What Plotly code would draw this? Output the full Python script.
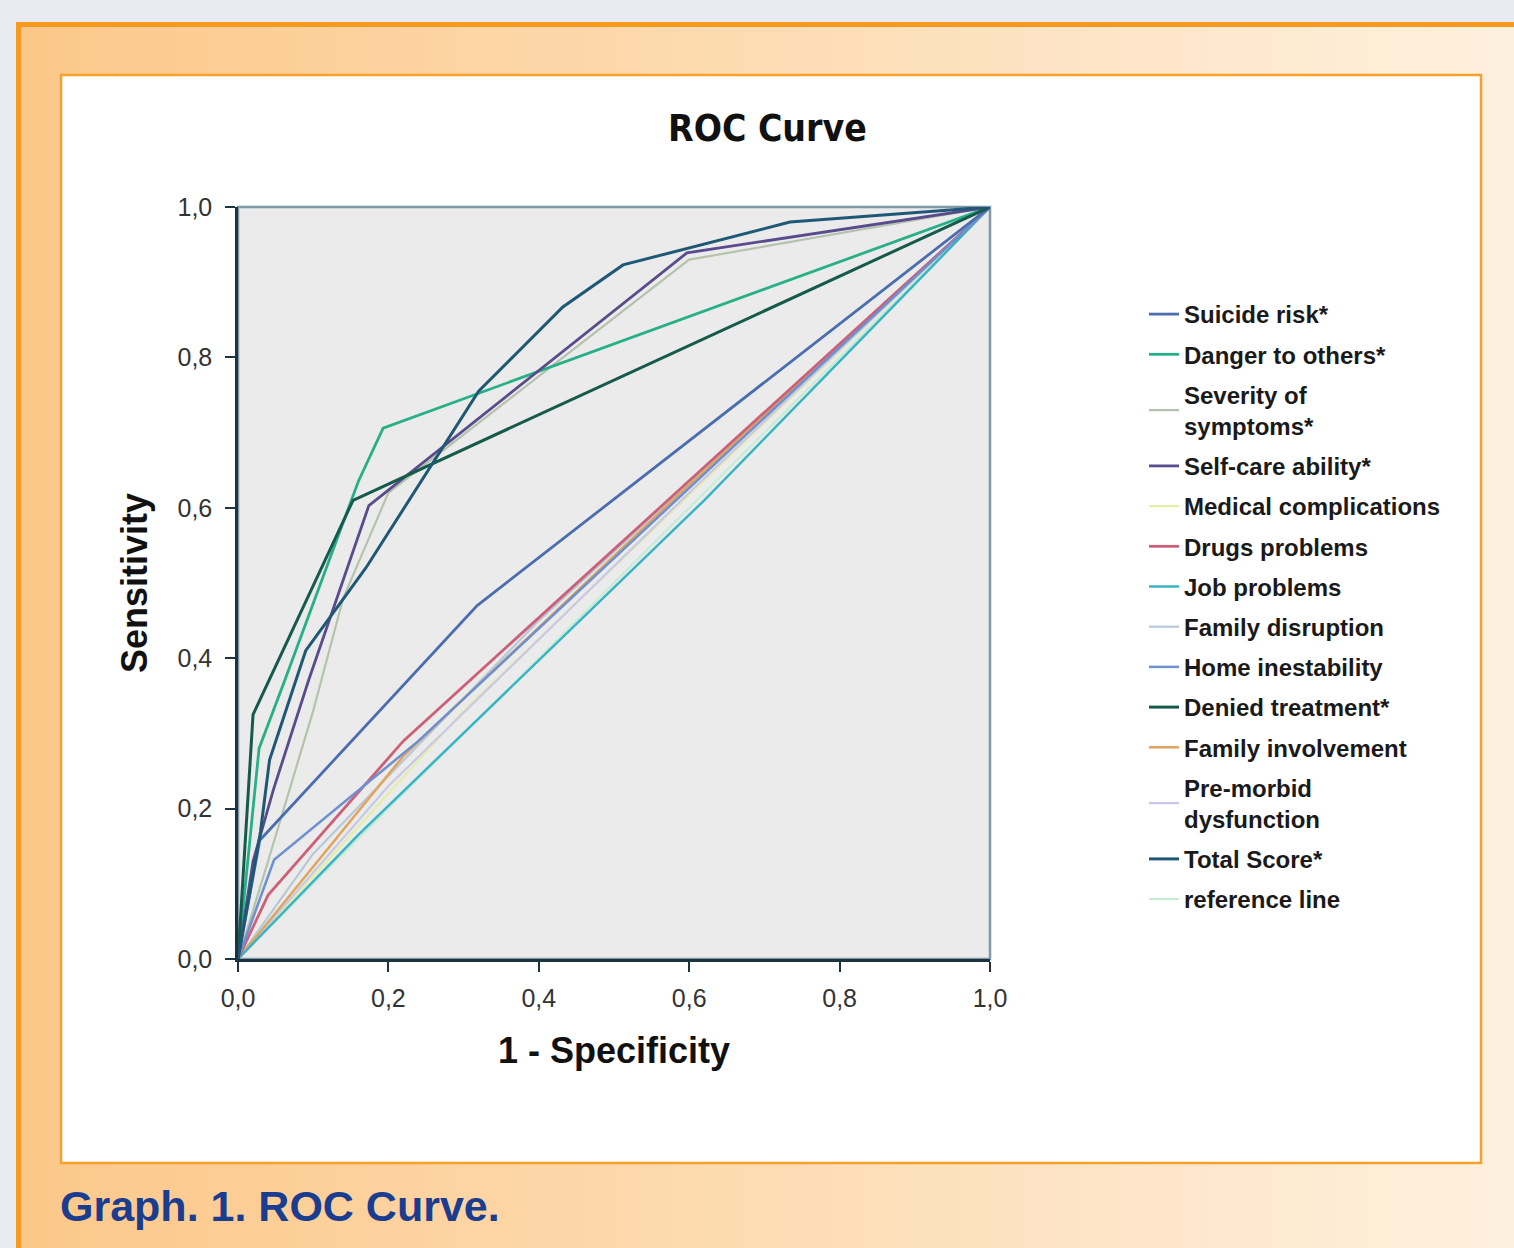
import plotly.graph_objects as go

# ---------------- data ----------------
tick_values = [0.0, 0.2, 0.4, 0.6, 0.8, 1.0]
tick_labels = ["0,0", "0,2", "0,4", "0,6", "0,8", "1,0"]

series_names = [
    "Suicide risk*", "Danger to others*", "Severity of<br>symptoms*",
    "Self-care ability*", "Medical complications", "Drugs problems",
    "Job problems", "Family disruption", "Home inestability",
    "Denied treatment*", "Family involvement", "Pre-morbid<br>dysfunction",
    "Total Score*", "reference line",
]

suicide_x = [0, 0.029, 0.318, 1]
suicide_y = [0, 0.158, 0.470, 1]
danger_x = [0, 0.028, 0.062, 0.160, 0.193, 1]
danger_y = [0, 0.280, 0.370, 0.635, 0.706, 1]
severity_x = [0, 0.040, 0.100, 0.140, 0.200, 0.600, 1]
severity_y = [0, 0.130, 0.330, 0.480, 0.620, 0.930, 1]
selfcare_x = [0, 0.020, 0.047, 0.094, 0.174, 0.597, 1]
selfcare_y = [0, 0.130, 0.225, 0.371, 0.603, 0.939, 1]
medical_x = [0, 0.300, 1]
medical_y = [0, 0.330, 1]
drugs_x = [0, 0.040, 0.220, 1]
drugs_y = [0, 0.085, 0.290, 1]
job_x = [0, 0.160, 0.620, 1]
job_y = [0, 0.165, 0.610, 1]
famdis_x = [0, 0.100, 0.400, 1]
famdis_y = [0, 0.140, 0.450, 1]
home_x = [0, 0.048, 0.240, 1]
home_y = [0, 0.132, 0.290, 1]
denied_x = [0, 0.020, 0.153, 1]
denied_y = [0, 0.325, 0.610, 1]
faminv_x = [0, 0.220, 0.578, 1]
faminv_y = [0, 0.270, 0.610, 1]
premorbid_x = [0, 0.200, 0.600, 1]
premorbid_y = [0, 0.230, 0.620, 1]
total_x = [0, 0.030, 0.042, 0.090, 0.170, 0.320, 0.432, 0.512, 0.734, 1]
total_y = [0, 0.170, 0.265, 0.410, 0.520, 0.755, 0.867, 0.923, 0.980, 1]
reference_x = [0, 1]
reference_y = [0, 1]

series_x = [suicide_x, danger_x, severity_x, selfcare_x, medical_x, drugs_x, job_x,
            famdis_x, home_x, denied_x, faminv_x, premorbid_x, total_x, reference_x]
series_y = [suicide_y, danger_y, severity_y, selfcare_y, medical_y, drugs_y, job_y,
            famdis_y, home_y, denied_y, faminv_y, premorbid_y, total_y, reference_y]

series_colors = [
    "#4a6db0", "#27b088", "#b4c4ac", "#5a4c8c", "#e4eea4", "#cc6078",
    "#38b4c4", "#b8c8d8", "#6c90d0", "#155a4c", "#e0a45c", "#c8c8e6",
    "#1f5876", "#c6ecd6",
]
series_widths = [2.8, 2.8, 2.2, 2.8, 2.2, 2.8, 2.5, 2.2, 2.5, 3, 2.5, 2.2, 3, 2.2]

# ---------------- geometry helpers ----------------
W, H = 1514, 1248
PL, PR, PT, PB = 238, 990, 207, 959
SPAN = PR - PL


def px(x):
    return (x - PL) / SPAN


def py(y):
    return (PB - y) / (PB - PT)


fig = go.Figure()

# draw light series first, dark on top, but keep legend order
draw_order = [13, 4, 11, 7, 2, 10, 6, 5, 8, 0, 1, 3, 9, 12]
for i in draw_order:
    fig.add_trace(go.Scatter(
        x=series_x[i], y=series_y[i], mode="lines", name=series_names[i],
        line=dict(color=series_colors[i], width=series_widths[i]),
        legendgroup=str(i), legendrank=i + 1, hoverinfo="skip",
    ))

shapes = []
# orange outer frame with horizontal gradient (strips)
n = 48
x0, x1 = 18, W + 10
c0 = (252, 200, 138)
c1 = (254, 240, 222)
for k in range(n):
    t = k / (n - 1)
    col = "rgb(%d,%d,%d)" % tuple(round(a + (b - a) * t) for a, b in zip(c0, c1))
    sx0 = x0 + (x1 - x0) * k / n
    sx1 = x0 + (x1 - x0) * (k + 1) / n + 1
    shapes.append(dict(type="rect", xref="paper", yref="paper", layer="below",
                       x0=px(sx0), x1=px(sx1), y0=py(24), y1=py(H + 10),
                       fillcolor=col, line=dict(width=0)))
shapes.append(dict(type="rect", xref="paper", yref="paper", layer="below",
                   x0=px(18.5), x1=px(W + 10), y0=py(24.5), y1=py(H + 10),
                   fillcolor="rgba(0,0,0,0)", line=dict(color="#f59a1e", width=5)))
# inner white panel
shapes.append(dict(type="rect", xref="paper", yref="paper", layer="below",
                   x0=px(61), x1=px(1481), y0=py(75), y1=py(1163),
                   fillcolor="#ffffff", line=dict(color="#f7a02a", width=2.5)))
# plot-area background with light frame (top / right)
shapes.append(dict(type="rect", xref="x domain", yref="y domain", layer="below",
                   x0=0, x1=1, y0=0, y1=1, fillcolor="#ebebeb",
                   line=dict(color="#7d98a6", width=2.5)))

annotations = [
    dict(text="<b>ROC Curve</b>", xref="paper", yref="paper", x=px(767), y=py(129),
         xanchor="center", yanchor="middle", showarrow=False,
         font=dict(family="Liberation Sans Narrow, DejaVu Sans Condensed, sans-serif",
                   size=37, color="#111111")),
    dict(text="<b>Graph. 1. ROC Curve.</b>", xref="paper", yref="paper", x=px(58), y=py(1206),
         xanchor="left", yanchor="middle", showarrow=False,
         font=dict(family="Liberation Sans, Arial, sans-serif", size=43, color="#1b3d8f")),
]

fig.update_layout(
    width=W, height=H,
    margin=dict(l=PL, r=W - PR, t=PT, b=H - PB, pad=0),
    paper_bgcolor="#eaeaf3",
    plot_bgcolor="#ebebeb",
    shapes=shapes,
    annotations=annotations,
    showlegend=True,
    legend=dict(
        x=px(1144), y=py(292), xanchor="left", yanchor="top",
        bgcolor="rgba(0,0,0,0)", borderwidth=0,
        font=dict(family="Liberation Sans, Arial, sans-serif", size=24,
                  color="#1a1a1a", weight="bold"),
        tracegroupgap=6, itemwidth=30, traceorder="grouped",
    ),
    xaxis=dict(
        range=[0, 1], tickvals=tick_values, ticktext=tick_labels,
        showgrid=False, zeroline=False, showline=True, linecolor="#1d3440", linewidth=2.5,
        ticks="outside", ticklen=10, tickwidth=2, tickcolor="#1d3440", ticklabelstandoff=5,
        tickfont=dict(family="Liberation Sans, Arial, sans-serif", size=25, color="#333333"),
        title=dict(text="<b>1 - Specificity</b>", standoff=28,
                   font=dict(family="Liberation Sans, Arial, sans-serif", size=36, color="#111111")),
    ),
    yaxis=dict(
        range=[0, 1], tickvals=tick_values, ticktext=tick_labels,
        showgrid=False, zeroline=False, showline=True, linecolor="#1d3440", linewidth=2.5,
        ticks="outside", ticklen=10, tickwidth=2, tickcolor="#1d3440", ticklabelstandoff=8,
        tickfont=dict(family="Liberation Sans, Arial, sans-serif", size=25, color="#333333"),
        title=dict(text="<b>Sensitivity</b>", standoff=19,
                   font=dict(family="Liberation Sans, Arial, sans-serif", size=36, color="#111111")),
    ),
)

fig.write_html(
    "out.html",
    config={"displayModeBar": False},
    post_script="document.body.style.margin='0';document.body.style.background='#eaeaf3';",
)
